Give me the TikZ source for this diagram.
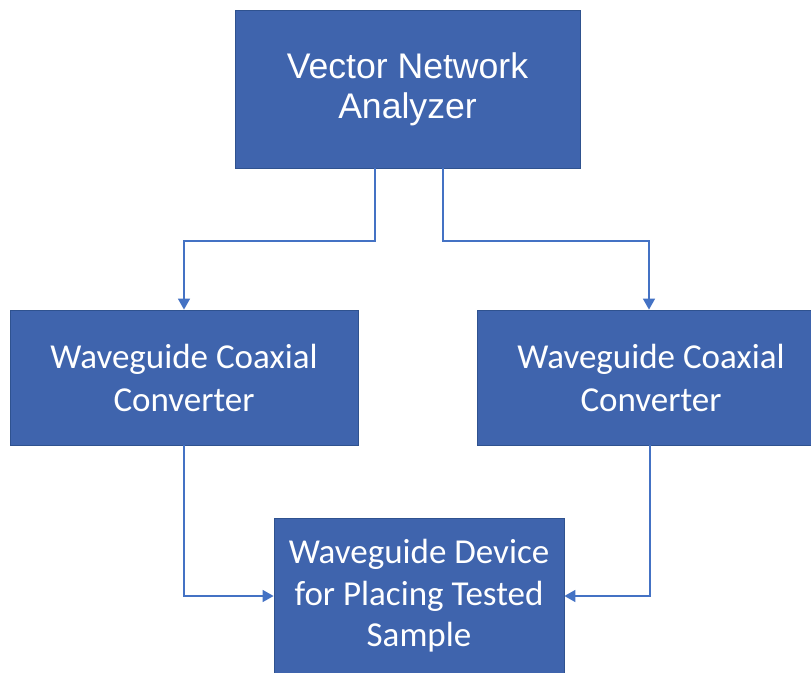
\documentclass[tikz,border=0pt]{standalone}
\usepackage{fontspec}
\setmainfont{Carlito}
\newfontfamily\arialfont{Liberation Sans}
\usetikzlibrary{arrows.meta}
\definecolor{boxfill}{HTML}{3F64AD}
\definecolor{boxline}{HTML}{2F528F}
\definecolor{linkcol}{HTML}{4472C4}
\begin{document}
\begin{tikzpicture}[x=1pt,y=-1pt,
  blk/.style={draw=boxline,line width=0.8pt,fill=boxfill,text=white,align=center,inner sep=0pt},
  link/.style={draw=linkcol,line width=1.5pt,-{Triangle[width=12pt,length=11pt]}}]
\useasboundingbox (0,0) rectangle (811,672);
\begin{scope}
\clip (0,0) rectangle (811,672);
\node[blk,minimum width=345pt,minimum height=158pt,font=\arialfont\fontsize{35.6}{40}\selectfont] (vna) at (407.5,89) {Vector Network\\Analyzer};
\node[blk,minimum width=348pt,minimum height=135pt,font=\fontsize{35}{43}\selectfont] (wl) at (184,377.5) {Waveguide Coaxial\\Converter};
\node[blk,minimum width=348pt,minimum height=135pt,font=\fontsize{35}{43}\selectfont] (wr) at (651,377.5) {Waveguide Coaxial\\Converter};
\node[blk,minimum width=290pt,minimum height=156pt,font=\fontsize{35}{41.5}\selectfont] (dev) at (419,596) {Waveguide Device\\for Placing Tested\\Sample};
\end{scope}
\coordinate (p1) at (375,241);
\coordinate (p2) at (443,241);
\draw[link] (p1 |- vna.south) -- (p1) -- (184,241) -- (184,0 |- wl.north);
\draw[link] (p2 |- vna.south) -- (p2) -- (649,241) -- (649,0 |- wr.north);
\draw[link] (184,0 |- wl.south) -- (184,596) -- (dev.west);
\draw[link] (650,0 |- wr.south) -- (650,596) -- (dev.east);
\end{tikzpicture}
\end{document}
